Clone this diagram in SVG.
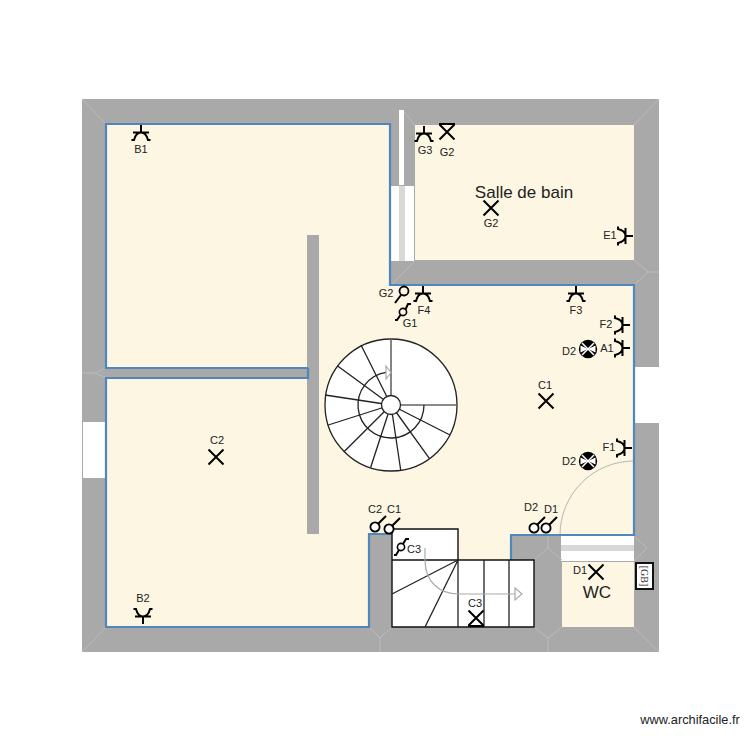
<svg xmlns="http://www.w3.org/2000/svg" width="750" height="750" viewBox="0 0 750 750">
<style>
text{font-family:"Liberation Sans",Arial,sans-serif;font-size:11px;fill:#222;text-anchor:middle}
.big{font-size:17px}
.sym{fill:none;stroke:#000;stroke-width:2}
.blue{fill:none;stroke:#4f86bb;stroke-width:2.200}
.facet{fill:none;stroke:#bcbcbc;stroke-width:1}
.st{fill:none;stroke:#222;stroke-width:1.300}
.stg{fill:none;stroke:#666;stroke-width:1.600}
.ar{fill:none;stroke:#aaa;stroke-width:1.200}
</style>
<defs>
<g id="x"><path class="sym" d="M-7.500-7.500L7.500 7.500M7.500-7.500L-7.500 7.500"/></g>
<g id="sock"><path class="sym" d="M0 0V8M-9.500 15H-7C-6 11-4 7.500 0 7.500C4 7.500 6 11 7 15H9.500M-8 7.500H8"/></g>
<g id="lamp"><circle r="9.200" fill="#000"/><path d="M0 0L-7.500-3.500V3.500ZM0 0L7.500-3.500V3.500Z" fill="#fff"/><path d="M-6-6L6 6M6-6L-6 6" stroke="#fff" stroke-width="1.500"/></g>
<g id="sw"><circle r="4.600" fill="#fff" stroke="#000" stroke-width="1.800"/><path class="sym" d="M3.200-3.200L11-11"/></g>
</defs>
<rect x="82" y="99" width="577" height="553" fill="#a9a9a9"/>
<g id="rooms">
<path fill="#fcf6e3" d="M106 124H390V285H634V535H511V560H392V534H369V627H106V378H308V368H106Z"/>
<rect x="415" y="125" width="219" height="135" fill="#fcf6e3"/>
<rect x="562" y="562" width="72" height="65" fill="#fcf6e3"/>
</g>
<g id="walls">
<rect x="307" y="235" width="12" height="299" fill="#a9a9a9"/>
<rect x="399" y="110" width="5" height="75" fill="#fff"/>
<rect x="391" y="186" width="23" height="75" fill="#fff"/>
<rect x="399" y="186" width="6" height="75" fill="#d8d8d8"/>
<rect x="634" y="367" width="25" height="56" fill="#fff"/>
<rect x="83" y="422" width="23" height="56" fill="#fff"/>
<rect x="561" y="536" width="73" height="25" fill="#fff"/>
<rect x="561" y="545" width="73" height="6" fill="#d8d8d8"/>
<path class="facet" d="M82 99L106 124M659 99L634 125M415 125L404 112M391 285L415 261M634 260L648 272H659M634 285L648 272M659 652L634 627M82 652L106 627M369 627L380 638L392 627M380 638V652M534 627L548 638L562 627M548 638V652M534 560L548 548L562 560M548 535V548M634 536L647 548L634 561M106 368L95 373H82M106 378L95 373"/>
</g>
<g id="door"><path d="M560 535A74 74 0 0 1 634 461" fill="none" stroke="#b5b5b5" stroke-width="1"/></g>
<g id="blue-outlines">
<path class="blue" d="M308 368H106V124H390V285H634V535H511V560"/>
<path class="blue" d="M308 368V378H106V627H369V534H392"/>
</g>
<g id="spiral">
<circle cx="391" cy="405" r="66" fill="#fff" stroke="#222" stroke-width="1.300"/>
<path class="st" d="M391 405L450 435M391 405L429.300 458.300M391 405L400.700 470M391 405L370.700 467.300M391 405L344 451.700M391 405L328.300 425M391 405L325 395M391 405L337.300 365.700M391 405L361 345"/>
<path class="stg" d="M391 405V339M391 405H457"/>
<path class="st" d="M424 405A33 33 0 1 1 386 372.400"/>
<path class="ar" d="M386 366L391 372.500L386 379Z" fill="#fff"/>
<circle cx="391" cy="405" r="9.500" fill="#fff" stroke="#222" stroke-width="1.300"/>
</g>
<g id="stairs">
<rect x="392" y="529" width="66" height="31" fill="#fff"/>
<rect x="392" y="560" width="142" height="67" fill="#fff"/>
<path d="M392 529H458V560M392 529V627H534V560H392" fill="none" stroke="#111" stroke-width="1.400"/>
<path class="st" d="M458 560V627M484 560V627M509 560V627M458 560L392 594M458 560L425 627"/>
<path class="ar" d="M425 548V560C425 582 440 594 458 594H515"/>
<path class="ar" d="M515 588L522 594L515 600Z"/>
</g>
<g id="x-c2"><use href="#x" x="216" y="457"/><text x="217" y="444">C2</text></g>
<g id="x-c1"><use href="#x" x="546" y="401"/><text x="545" y="389">C1</text></g>
<g id="x-g2"><use href="#x" x="491" y="208"/><text x="491" y="227">G2</text></g>
<g id="x-g2b"><use href="#x" x="447" y="132"/><path class="sym" d="M439 124H455"/><text x="447" y="156">G2</text></g>
<g id="x-d1"><use href="#x" x="596" y="572"/><text x="580" y="574">D1</text></g>
<g id="x-c3"><use href="#x" x="476" y="618"/><path d="M468 625H484V627H468Z" fill="#000"/><text x="475" y="607">C3</text></g>
<g id="s-b1"><use href="#sock" x="141" y="125"/><text x="141" y="153">B1</text></g>
<g id="s-b2"><use href="#sock" transform="translate(143 624) scale(1 -1)"/><text x="143" y="602">B2</text></g>
<g id="s-g3"><use href="#sock" x="424" y="126"/><text x="425" y="154">G3</text></g>
<g id="s-e1"><use href="#sock" transform="translate(633 236) rotate(90)"/><text x="610" y="239">E1</text></g>
<g id="s-f4"><use href="#sock" x="423" y="286"/><text x="424" y="314">F4</text></g>
<g id="s-f3"><use href="#sock" x="576" y="286"/><text x="576" y="314">F3</text></g>
<g id="s-f2"><use href="#sock" transform="translate(630 325) rotate(90)"/><text x="606" y="328">F2</text></g>
<g id="s-a1"><use href="#sock" transform="translate(630 348) rotate(90)"/><text x="607" y="352">A1</text></g>
<g id="s-f1"><use href="#sock" transform="translate(632 448) rotate(90)"/><text x="609" y="451">F1</text></g>
<g id="l-d2a"><use href="#lamp" x="588" y="349"/><text x="569" y="355">D2</text></g>
<g id="l-d2b"><use href="#lamp" x="588" y="461"/><text x="569" y="465">D2</text></g>
<g id="sw-g2"><circle cx="404" cy="291" r="4.500" fill="none" stroke="#000" stroke-width="1.800"/><path class="sym" d="M401 295L395 303"/><text x="386" y="297">G2</text></g>
<g id="sw-g1"><circle cx="403" cy="312" r="3.600" fill="none" stroke="#000" stroke-width="1.600"/><path class="sym" d="M400.500 315L397 320H395M405.500 309.500L408 304H411"/><text x="410" y="327">G1</text></g>
<g id="sw-c2"><use href="#sw" x="375" y="527"/><text x="375" y="513">C2</text></g>
<g id="sw-c1"><use href="#sw" x="389" y="529"/><text x="394" y="513">C1</text></g>
<g id="sw-d2"><use href="#sw" x="534" y="528"/><text x="531" y="511">D2</text></g>
<g id="sw-d1"><use href="#sw" x="546" y="528"/><text x="551" y="513">D1</text></g>
<g id="sw-c3"><circle cx="401" cy="547" r="3.600" fill="#fff" stroke="#000" stroke-width="1.600"/><path class="sym" d="M399 550L396 555H394M403 544L406 539H409"/><text x="414" y="553">C3</text></g>
<g id="labels"><text class="big" x="524" y="198">Salle de bain</text><text class="big" x="597" y="598">WC</text><text x="690" y="724" style="font-size:12.800px">www.archifacile.fr</text></g>
<g id="cbi"><rect x="636" y="563" width="17" height="26" fill="#fff" stroke="#111" stroke-width="2"/><text transform="translate(641 576) rotate(90)" style="font-family:'Liberation Serif',serif;font-size:10px">[GB]</text></g>
</svg>
